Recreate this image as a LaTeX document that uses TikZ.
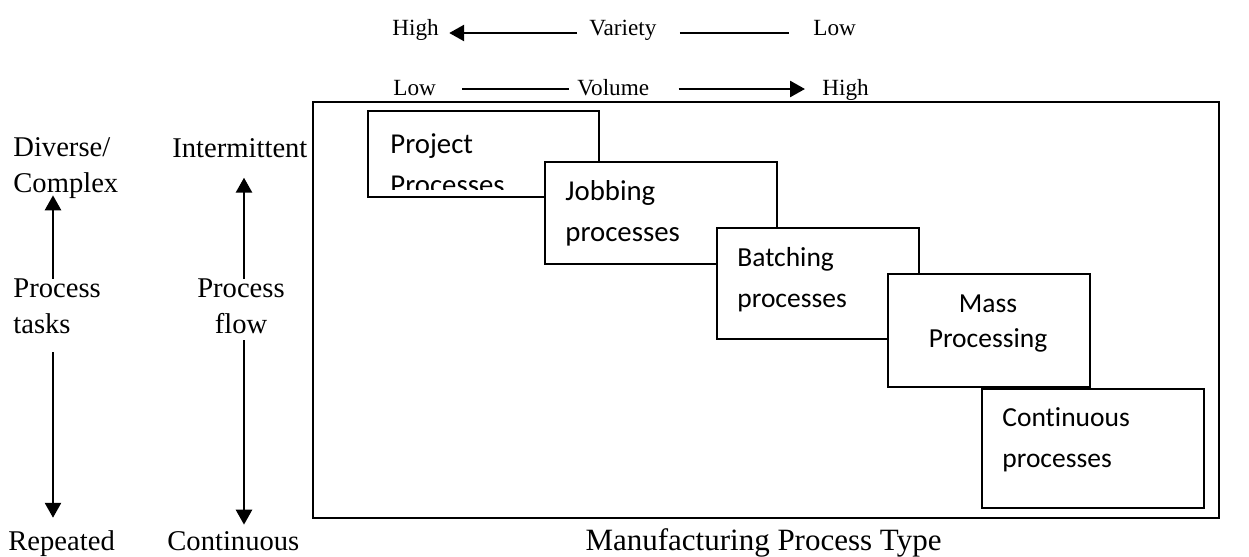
\documentclass[tikz,border=0pt]{standalone}
\usepackage{fontspec}
\setmainfont{Liberation Serif}
\newfontfamily\calibrifont[Ligatures=NoCommon]{Carlito}
\usetikzlibrary{arrows.meta}

\tikzset{
  axislabel/.style={inner sep=0pt, anchor=base west, font=\fontsize{11.6}{13}\selectfont},
  sidelabel/.style={inner sep=0pt, align=left, font=\fontsize{14.3}{18}\selectfont},
  procbox/.style={draw, line width=1pt, fill=white, inner sep=0pt, anchor=north west},
  proctext/.style={inner sep=0pt, align=left, anchor=base west, font=\calibrifont\fontsize{13.75}{20.5}\selectfont},
  bigproctext/.style={proctext, font=\calibrifont\fontsize{14.4}{20.5}\selectfont},
  boldarrow/.style={line width=1.35pt, -{Triangle[length=7.5pt,width=8pt]}},
  thinline/.style={line width=0.6pt},
}

\begin{document}
\begin{tikzpicture}[x=0.5pt,y=-0.5pt]
\useasboundingbox (0,0) rectangle (1249,557);

% Variety scale
\node[axislabel] (varhigh) at (392,35) {High};
\node[axislabel] (variety) at (589,35) {Variety};
\node[axislabel] (varlow) at (813,35) {Low};
\draw[boldarrow] ([xshift=-6pt,yshift=1pt]variety.base west) -- ([xshift=5pt,yshift=1pt]varhigh.base east);
\draw[thinline] ([xshift=11.5pt,yshift=1pt]variety.base east) -- ([xshift=-12pt,yshift=1pt]varlow.base west);

% Volume scale
\node[axislabel] (vollow) at (393,95) {Low};
\node[axislabel] (volume) at (577,95) {Volume};
\node[axislabel] (volhigh) at (822,95) {High};
\draw[thinline] ([xshift=13pt,yshift=3pt]vollow.base east) -- ([xshift=-4pt,yshift=3pt]volume.base west);
\draw[boldarrow] ([xshift=14.5pt,yshift=3pt]volume.base east) -- ([xshift=-8.5pt,yshift=3pt]volhigh.base west);

%Shape: Rectangle (frame)
\draw[line width=1.2pt] (313,102) rectangle (1219,518);

% Text Node: side scales
\node[sidelabel, anchor=north west] (diverse) at (13,137.5) {Diverse/\\Complex};
\node[sidelabel, anchor=north west] (tasks) at (13,278.5) {Process\\tasks};
\node[sidelabel, anchor=base west] (repeated) at (8,550) {Repeated};
\node[sidelabel, anchor=base west] (intermittent) at (172,157) {Intermittent};
\node[sidelabel, align=center, anchor=north] (flow) at (241,278.5) {Process\\flow};
\node[sidelabel, anchor=base west] (continuous) at (167,550) {Continuous};

\coordinate (taskaxis) at (53,0);
\coordinate (flowaxis) at (244,0);
\draw[boldarrow, shorten >=-2pt] (tasks.north -| taskaxis) -- (diverse.south -| taskaxis);
\draw[boldarrow, shorten <=9pt, shorten >=6pt] (tasks.south -| taskaxis) -- (repeated.north -| taskaxis);
\draw[boldarrow, shorten >=10pt] (flow.north -| flowaxis) -- (intermittent.south -| flowaxis);
\draw[boldarrow, shorten <=3pt, shorten >=3pt] (flow.south -| flowaxis) -- (continuous.north -| flowaxis);

% Text Node: caption
\node[inner sep=0pt, anchor=base, font=\fontsize{15.5}{18}\selectfont] (mptype) at (763.5,550) {Manufacturing Process Type};

%Shape: Rectangle (process boxes, later ones on top)
% (text nodes sit on the baseline of their last line)
\node[procbox, minimum width=115.5pt, minimum height=43pt] (project) at (367,110) {};
\begin{scope}
\clip (project.north west) rectangle ([yshift=4.5pt]project.south east);
\node[bigproctext] (projecttext) at (390,194) {Project\\Processes};
\end{scope}

\node[procbox, minimum width=116pt, minimum height=51pt] (jobbing) at (544,161) {};
\node[bigproctext] (jobbingtext) at (565,241) {Jobbing\\processes};

\node[procbox, minimum width=101pt, minimum height=55.5pt] (batching) at (716,227) {};
\node[proctext] (batchingtext) at (737,307) {Batching\\processes};

\node[procbox, minimum width=101pt, minimum height=56.5pt] (mass) at (887,273) {};
\node[proctext, align=center, anchor=base, font=\calibrifont\fontsize{13.75}{17.5}\selectfont] (masstext) at (988,347) {Mass\\Processing};

\node[procbox, minimum width=111pt, minimum height=59.5pt] (contbox) at (981,388) {};
\node[proctext] (conttext) at (1002,467) {Continuous\\processes};
\end{tikzpicture}
\end{document}
